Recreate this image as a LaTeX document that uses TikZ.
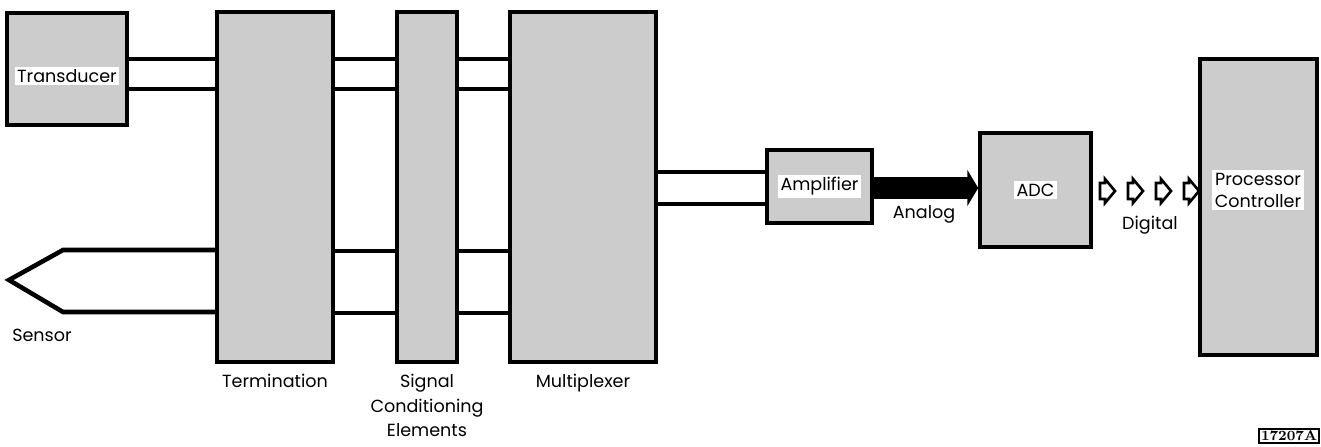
\documentclass[tikz,border=0pt]{standalone}
\usepackage{fontspec}
\setsansfont{Poppins}
\usetikzlibrary{positioning, fit, arrows.meta}

\begin{document}
\begin{tikzpicture}[x=0.02cm, y=-0.02cm,
    box/.style={draw, line width=2pt, fill=black!20, inner sep=0pt},
    wire/.style={line width=2.6pt},
    txt/.style={fill=white, inner sep=1.5pt, align=center,
        font=\sffamily\fontsize{10}{12.5}\selectfont},
    lbl/.style={inner sep=0pt, align=center,
        font=\sffamily\fontsize{10}{14}\selectfont}]

    % frame of the whole picture
    \useasboundingbox (0,0) rectangle (1321,446);

    % ----- blocks -----
    \node[box, fit={(7,13) (127,125)}] (trans) {};
    \node[box, fit={(217,12) (333,362)}] (term) {};
    \node[box, fit={(397,12) (457,362)}] (sig) {};
    \node[box, fit={(510,12) (656,362)}] (mux) {};
    \node[box, fit={(767,150) (872,223)}] (amp) {};
    \node[box, fit={(980,133) (1091,247)}] (adc) {};
    \node[box, fit={(1200,59) (1317,355)}] (proc) {};

    % ----- texts in the blocks -----
    \node[txt] (transtxt) at (67,76) {Transducer};
    \node[txt] (amptxt) at (amp.center) {Amplifier};
    \node[txt] (adctxt) at (adc.center) {ADC};
    \node[txt] (proctxt) at (1258,190) {Processor\\Controller};

    % ----- wire pairs -----
    \foreach \yy in {59,89}
        \draw[wire] (trans.east |- 0,\yy) -- (term.west |- 0,\yy)
                    (term.east |- 0,\yy) -- (sig.west |- 0,\yy)
                    (sig.east |- 0,\yy) -- (mux.west |- 0,\yy);
    \foreach \yy in {251,313}
        \draw[wire] (term.east |- 0,\yy) -- (sig.west |- 0,\yy)
                    (sig.east |- 0,\yy) -- (mux.west |- 0,\yy);
    \foreach \yy in {172,204}
        \draw[wire] (mux.east |- 0,\yy) -- (amp.west |- 0,\yy);

    % sensor probe
    \coordinate (tip) at (9,280);
    \draw[wire, line join=miter] (term.west |- 0,250) -- (63,250) -- (tip)
        -- (63,312) -- (term.west |- 0,312);

    % analog signal (solid arrow)
    \draw[line width=0.46cm, -{Triangle[length=0.22cm, width=0.72cm]}]
        (amp.east |- 0,188) -- (adc.west |- 0,188);

    % digital signal (hollow arrows)
    \foreach \xx in {1100,1128,1156,1184}
        \draw[line width=1.5pt, fill=white, line join=miter]
            (\xx,183) -- ++(5,0) -- ++(0,-4) -- ++(10,12) -- ++(-10,12)
            -- ++(0,-4) -- ++(-5,0) -- cycle;

    % ----- captions -----
    \node[lbl] (senslbl) at (42,335) {Sensor};
    \node[lbl, below=0.2cm of term] (termlbl) {Termination};
    \node[lbl, below=0.2cm of sig] (siglbl) {Signal\\Conditioning\\Elements};
    \node[lbl, below=0.2cm of mux] (muxlbl) {Multiplexer};
    \node[lbl] (analbl) at (924,214) {Analog};
    \node[lbl] (diglbl) at (1150,225) {Digital};

    % figure number
    \node[draw, line width=0.8pt, inner sep=1.2pt,
        font=\rmfamily\bfseries\fontsize{8}{9}\selectfont] (tag) at (1289,436) {17207A};

\end{tikzpicture}
\end{document}
